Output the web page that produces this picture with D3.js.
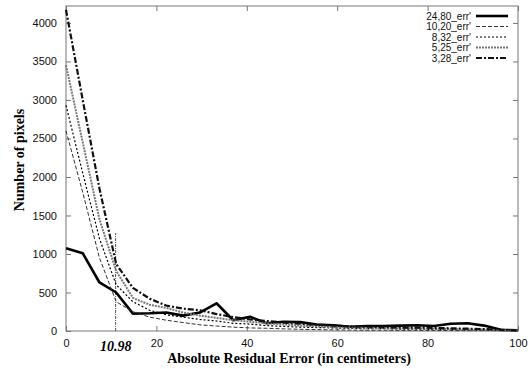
<!DOCTYPE html>
<html><head><meta charset="utf-8">
<script src="https://cdn.jsdelivr.net/npm/d3@7"></script>
<style>body{margin:0;background:#fff}svg{display:block}</style>
</head><body>
<script>
const xs = [0,3.7,7.4,11.1,14.8,18.5,22.2,25.9,29.6,33.3,37,40.7,44.4,48.1,51.8,55.5,59.2,62.9,66.6,70.3,74,77.7,81.4,85.1,88.8,92.5,96.2,99.9];
const s24_80 = [1075,1010,630,500,225,230,240,200,240,360,140,185,100,120,115,85,75,55,65,65,70,75,65,95,100,70,15,10];
const s10_20 = [2600,1800,950,380,250,180,140,110,80,65,50,40,35,28,22,18,15,12,10,10,8,8,7,6,5,5,4,3];
const s8_32 = [2930,2050,1200,600,380,270,210,180,150,130,100,90,70,60,50,45,40,35,30,30,25,25,20,20,15,15,10,8];
const s5_25 = [3450,2450,1450,780,430,340,300,240,200,170,140,120,100,85,70,60,50,45,40,40,35,35,30,25,20,18,10,8];
const s3_28 = [4170,3000,1850,870,560,420,330,290,270,220,180,150,130,110,95,80,70,60,55,50,45,45,40,35,30,25,15,10];
const seriesNames = ["24,80_err'","10,20_err'","8,32_err'","5,25_err'","3,28_err'"];
const xTicks = [0,20,40,60,80,100];
const yTicks = [0,500,1000,1500,2000,2500,3000,3500,4000];
const marker = 10.98, markerTop = 1270;

const W=529,H=369, L=66,R=518,T=6,B=331;
const svg=d3.select("body").append("svg").attr("width",W).attr("height",H);
const x=d3.scaleLinear().domain([0,100]).range([L,R]);
const y=d3.scaleLinear().domain([0,4220]).range([B,T]);

const styles=[
 {stroke:"#000",w:2.6,dash:null},
 {stroke:"#333",w:1,dash:"4,2"},
 {stroke:"#000",w:1.2,dash:"2,2"},
 {stroke:"#777",w:2,dash:"2,1"},
 {stroke:"#111",w:2.2,dash:"6,2,2,2"}
];
const data=[s24_80,s10_20,s8_32,s5_25,s3_28];

svg.append("rect").attr("x",L).attr("y",T).attr("width",R-L).attr("height",B-T)
 .attr("fill","none").attr("stroke","#777").attr("stroke-width",1);

const fmt=d3.format("d");
const gl=svg.append("g").attr("transform",`translate(${L},0)`).call(d3.axisLeft(y).tickValues(yTicks).tickSize(-5).tickPadding(9).tickFormat(fmt));
const gb=svg.append("g").attr("transform",`translate(0,${B})`).call(d3.axisBottom(x).tickValues(xTicks).tickSize(-5).tickPadding(8).tickFormat(fmt));
const gr=svg.append("g").attr("transform",`translate(${R},0)`).call(d3.axisRight(y).tickValues(yTicks).tickSize(-5).tickFormat(""));
const gt=svg.append("g").attr("transform",`translate(0,${T})`).call(d3.axisTop(x).tickValues(xTicks).tickSize(-5).tickFormat(""));
[gl,gb,gr,gt].forEach(g=>{g.select(".domain").remove();g.selectAll("line").attr("stroke","#777");
 g.selectAll("text").attr("font-family","Liberation Sans, Arial, sans-serif").attr("font-size",11).attr("fill","#111");});

svg.append("line").attr("x1",x(marker)).attr("x2",x(marker)).attr("y1",y(0)).attr("y2",y(markerTop))
 .attr("stroke","#555").attr("stroke-width",1).attr("stroke-dasharray","3,1,1,1");
svg.append("text").attr("x",x(marker)).attr("y",351).attr("text-anchor","middle")
 .attr("font-family","Liberation Serif, serif").attr("font-weight","bold").attr("font-style","italic").attr("font-size",14).text("10.98");

const line=d3.line().x((d,i)=>x(xs[i])).y(d=>y(d));
data.forEach((s,k)=>{
 svg.append("path").datum(s).attr("d",line).attr("fill","none").attr("stroke",styles[k].stroke)
  .attr("stroke-width",styles[k].w).attr("stroke-dasharray",styles[k].dash).attr("stroke-linejoin","round");
});

seriesNames.forEach((n,k)=>{
 const yy=16+k*10.5;
 svg.append("text").attr("x",471).attr("y",yy+3.5).attr("text-anchor","end")
  .attr("font-family","Liberation Sans, Arial, sans-serif").attr("font-size",10).attr("fill","#111").text(n);
 svg.append("line").attr("x1",476).attr("x2",508).attr("y1",yy).attr("y2",yy)
  .attr("stroke",styles[k].stroke).attr("stroke-width",styles[k].w).attr("stroke-dasharray",styles[k].dash);
});

svg.append("text").attr("x",289).attr("y",363).attr("text-anchor","middle")
 .attr("font-family","Liberation Serif, serif").attr("font-weight","bold").attr("font-size",14).text("Absolute Residual Error (in centimeters)");
svg.append("text").attr("transform","translate(24,160) rotate(-90)").attr("text-anchor","middle")
 .attr("font-family","Liberation Serif, serif").attr("font-weight","bold").attr("font-size",14).text("Number of pixels");
</script>
</body></html>
